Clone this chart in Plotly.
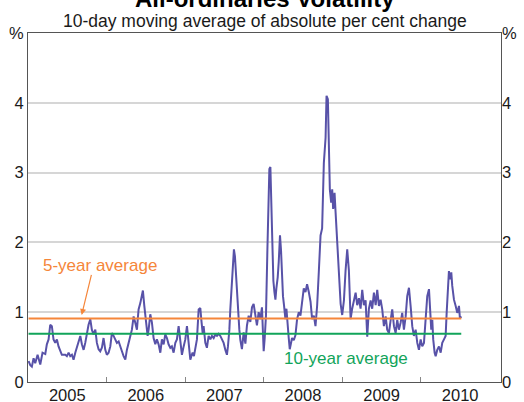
import plotly.graph_objects as go
from datetime import datetime, timedelta

# decimal-year positions, with the 10-day average (%) at each
year_frac = [
    2005.007, 2005.029, 2005.049, 2005.071, 2005.092, 2005.122, 2005.156, 2005.185, 2005.220, 2005.240,
    2005.262, 2005.283, 2005.304, 2005.325, 2005.347, 2005.368, 2005.389, 2005.411, 2005.431, 2005.475,
    2005.495, 2005.517, 2005.538, 2005.559, 2005.580, 2005.602, 2005.622, 2005.644, 2005.666, 2005.686,
    2005.708, 2005.729, 2005.750, 2005.771, 2005.793, 2005.813, 2005.835, 2005.857, 2005.877, 2005.899,
    2005.920, 2005.941, 2005.962, 2005.984, 2006.004, 2006.026, 2006.048, 2006.068, 2006.090, 2006.111,
    2006.132, 2006.154, 2006.175, 2006.196, 2006.217, 2006.239, 2006.259, 2006.281, 2006.303, 2006.323,
    2006.345, 2006.366, 2006.387, 2006.399, 2006.408, 2006.430, 2006.450, 2006.463, 2006.481, 2006.494,
    2006.506, 2006.523, 2006.536, 2006.557, 2006.578, 2006.599, 2006.621, 2006.641, 2006.663, 2006.685,
    2006.705, 2006.727, 2006.748, 2006.769, 2006.790, 2006.812, 2006.832, 2006.854, 2006.876, 2006.896,
    2006.918, 2006.931, 2006.947, 2006.960, 2006.982, 2007.003, 2007.024, 2007.045, 2007.067, 2007.080,
    2007.096, 2007.113, 2007.131, 2007.151, 2007.173, 2007.194, 2007.207, 2007.224, 2007.236, 2007.258,
    2007.278, 2007.300, 2007.322, 2007.342, 2007.364, 2007.385, 2007.406, 2007.427, 2007.449, 2007.469,
    2007.491, 2007.513, 2007.533, 2007.546, 2007.564, 2007.576, 2007.589, 2007.606, 2007.622, 2007.635,
    2007.648, 2007.661, 2007.673, 2007.691, 2007.704, 2007.724, 2007.746, 2007.768, 2007.788, 2007.810,
    2007.831, 2007.852, 2007.873, 2007.895, 2007.915, 2007.937, 2007.959, 2007.979, 2008.001, 2008.014,
    2008.030, 2008.048, 2008.061, 2008.073, 2008.086, 2008.099, 2008.111, 2008.124, 2008.137, 2008.150,
    2008.162, 2008.179, 2008.192, 2008.208, 2008.221, 2008.234, 2008.246, 2008.259, 2008.277, 2008.290,
    2008.303, 2008.319, 2008.332, 2008.345, 2008.361, 2008.383, 2008.404, 2008.425, 2008.447, 2008.468,
    2008.489, 2008.510, 2008.532, 2008.552, 2008.574, 2008.596, 2008.616, 2008.638, 2008.659, 2008.680,
    2008.702, 2008.723, 2008.743, 2008.765, 2008.787, 2008.799, 2008.816, 2008.829, 2008.841, 2008.858,
    2008.871, 2008.883, 2008.901, 2008.914, 2008.934, 2008.956, 2008.978, 2008.998, 2009.020, 2009.041,
    2009.062, 2009.083, 2009.105, 2009.125, 2009.147, 2009.169, 2009.189, 2009.211, 2009.232, 2009.253,
    2009.274, 2009.296, 2009.317, 2009.338, 2009.360, 2009.380, 2009.402, 2009.424, 2009.444, 2009.466,
    2009.487, 2009.508, 2009.529, 2009.551, 2009.571, 2009.593, 2009.615, 2009.635, 2009.657, 2009.678,
    2009.699, 2009.720, 2009.742, 2009.762, 2009.784, 2009.806, 2009.826, 2009.848, 2009.869, 2009.890,
    2009.911, 2009.933, 2009.954, 2009.975, 2009.997, 2010.017, 2010.039, 2010.061, 2010.081, 2010.103,
    2010.115, 2010.132, 2010.145, 2010.157, 2010.175, 2010.188, 2010.208, 2010.230, 2010.252, 2010.272,
    2010.294, 2010.315, 2010.328, 2010.341, 2010.357, 2010.370, 2010.387, 2010.399, 2010.421, 2010.443,
    2010.463, 2010.485, 2010.497, 2010.514,
]
volatility = [
    0.30, 0.24, 0.22, 0.34, 0.27, 0.39, 0.25, 0.42, 0.40, 0.54,
    0.61, 0.82, 0.80, 0.61, 0.56, 0.61, 0.51, 0.44, 0.39, 0.39,
    0.37, 0.42, 0.37, 0.39, 0.32, 0.42, 0.49, 0.58, 0.66, 0.54,
    0.46, 0.56, 0.70, 0.82, 0.90, 0.75, 0.68, 0.75, 0.56, 0.47,
    0.44, 0.49, 0.63, 0.46, 0.39, 0.42, 0.51, 0.70, 0.66, 0.61,
    0.56, 0.58, 0.49, 0.44, 0.37, 0.32, 0.46, 0.58, 0.66, 0.75,
    0.94, 0.85, 0.75, 0.92, 1.04, 1.13, 1.28, 1.31, 1.09, 0.92,
    0.80, 0.66, 0.75, 0.97, 0.85, 0.63, 0.54, 0.61, 0.54, 0.42,
    0.61, 0.54, 0.68, 0.63, 0.54, 0.49, 0.51, 0.42, 0.56, 0.61,
    0.80, 0.66, 0.46, 0.39, 0.51, 0.61, 0.80, 0.58, 0.32, 0.37,
    0.42, 0.37, 0.51, 0.61, 1.04, 1.06, 0.89, 0.70, 0.80, 0.56,
    0.49, 0.66, 0.61, 0.66, 0.63, 0.68, 0.66, 0.69, 0.66, 0.61,
    0.56, 0.46, 0.39, 0.51, 0.75, 1.04, 1.33, 1.61, 1.90, 1.80,
    1.52, 1.23, 1.04, 0.75, 0.60, 0.47, 0.71, 0.55, 0.81, 0.95,
    0.86, 1.07, 1.12, 0.95, 0.81, 1.00, 0.90, 1.07, 0.44, 0.63,
    0.95, 1.89, 2.60, 3.05, 3.08, 2.55, 1.72, 1.45, 1.29, 1.18,
    1.34, 1.50, 1.72, 2.10, 1.89, 1.45, 1.23, 1.10, 0.90, 1.05,
    0.81, 0.63, 0.47, 0.55, 0.63, 0.60, 0.67, 0.90, 1.00, 0.95,
    1.18, 1.34, 1.29, 1.40, 1.29, 1.15, 0.90, 0.95, 0.80, 1.10,
    1.60, 2.10, 2.20, 3.14, 3.50, 4.10, 4.05, 3.14, 2.76, 2.57,
    2.76, 2.48, 2.71, 2.43, 2.05, 1.60, 1.12, 0.96, 1.17, 1.60,
    1.90, 1.60, 0.90, 1.05, 1.17, 1.28, 1.10, 1.20, 1.05, 1.32,
    1.10, 1.17, 0.65, 1.05, 1.17, 1.05, 1.28, 1.10, 1.32, 1.09,
    1.18, 1.04, 0.80, 0.94, 0.75, 0.70, 0.89, 1.04, 0.80, 0.70,
    0.89, 0.75, 0.85, 0.99, 0.75, 0.94, 1.23, 1.35, 1.09, 0.80,
    0.66, 0.75, 0.56, 0.46, 0.61, 0.51, 0.56, 0.89, 1.23, 1.33,
    1.04, 0.75, 0.89, 0.61, 0.42, 0.37, 0.46, 0.51, 0.42, 0.56,
    0.61, 0.66, 0.99, 1.28, 1.59, 1.47, 1.57, 1.38, 1.18, 1.09,
    0.99, 1.09, 0.91, 0.94,
]
avg_5yr = 0.91
avg_10yr = 0.69
years = [2005, 2006, 2007, 2008, 2009, 2010]
y_ticks = [0, 1, 2, 3, 4, 5]
y_labels = ["0", "1", "2", "3", "4", "%"]


def to_date(y):
    yr = int(y)
    start = datetime(yr, 1, 1)
    ndays = (datetime(yr + 1, 1, 1) - start).days
    return start + timedelta(days=(y - yr) * ndays)


dates = [to_date(y) for y in year_frac]

purple = "#5852a8"
orange = "#f5863a"
green = "#12a45a"
font = "Liberation Sans, Arial, sans-serif"

fig = go.Figure()
fig.add_trace(go.Scatter(x=dates, y=volatility, mode="lines",
                         line=dict(color=purple, width=2)))
fig.add_trace(go.Scatter(x=[dates[0], dates[-1]], y=[avg_5yr, avg_5yr], mode="lines",
                         line=dict(color=orange, width=2)))
fig.add_trace(go.Scatter(x=[dates[0], dates[-1]], y=[avg_10yr, avg_10yr], mode="lines",
                         line=dict(color=green, width=2), yaxis="y2"))

fig.update_layout(
    width=524, height=402,
    margin=dict(l=28, r=23, t=33, b=20),
    paper_bgcolor="white", plot_bgcolor="white",
    showlegend=False,
    font=dict(family=font, size=17, color="#1a1a1a"),
    xaxis=dict(
        type="date", automargin=False,
        range=[to_date(2005.0), to_date(2011.02)],
        tickvals=[to_date(y + 0.5) for y in years],
        ticktext=[str(y) for y in years],
        ticks="", ticklabelstandoff=-2, showgrid=False, zeroline=False,
        showline=True, linecolor="#555555", linewidth=1, mirror=True,
        tickfont=dict(size=16.5),
        minor=dict(tickvals=[to_date(y) for y in years[1:]], ticks="inside",
                   ticklen=5, tickwidth=1, tickcolor="#888888", showgrid=False),
    ),
    yaxis=dict(
        automargin=False,
        range=[0, 5], tickvals=y_ticks, ticktext=y_labels, ticks="",
        showgrid=True, gridcolor="#d6d6d6", gridwidth=1.5, zeroline=False,
        showline=True, linecolor="#555555", linewidth=1, mirror=True,
        tickfont=dict(size=16.5),
    ),
    yaxis2=dict(
        automargin=False,
        range=[0, 5], tickvals=y_ticks, ticktext=y_labels, ticks="",
        overlaying="y", side="right", showgrid=False, zeroline=False, showline=False,
        tickfont=dict(size=16.5),
    ),
    annotations=[
        dict(text="<b>All-ordinaries Volatility</b>", xref="paper", yref="paper",
             x=0.5, y=1.0986, xanchor="center", yanchor="middle",
             showarrow=False, font=dict(size=24, color="#000000")),
        dict(text="10-day moving average of absolute per cent change", xref="paper", yref="paper",
             x=0.5, y=1.0355, xanchor="center", yanchor="middle",
             showarrow=False, font=dict(size=17.5)),
        dict(text="5-year average", xref="x domain", yref="y domain",
             x=0.152, y=0.333, xanchor="center", yanchor="middle",
             showarrow=False, font=dict(size=17, color=orange)),
        dict(text="", xref="x domain", yref="y domain", x=0.1135, y=0.192,
             axref="x domain", ayref="y domain", ax=0.1348, ay=0.3115,
             showarrow=True, arrowhead=2, arrowsize=1, arrowwidth=1.2, arrowcolor=orange),
        dict(text="10-year average", xref="x domain", yref="y domain",
             x=0.673, y=0.066, xanchor="center", yanchor="middle",
             showarrow=False, font=dict(size=17, color=green)),
    ],
)

# page has a default 8px body margin; drop it so the figure sits at the window's corner
fig.write_html("out.html", config={"displayModeBar": False},
               post_script="document.body.style.margin='0';document.body.style.overflow='hidden';")
